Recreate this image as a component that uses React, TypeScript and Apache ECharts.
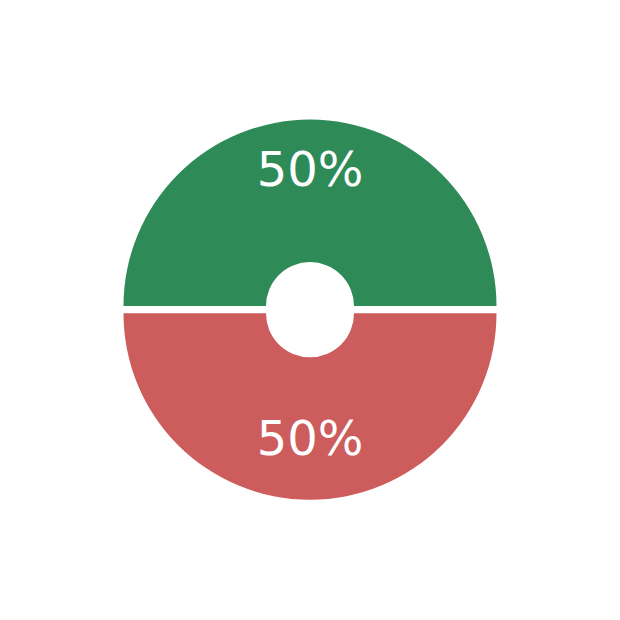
import React, { useEffect, useRef } from "react";
import * as echarts from "echarts";

const categories = ["Green", "Red"];
const values = [50, 50];
const colors = ["#2E8B57", "#CD5C5C"];

export default function App() {
  const ref = useRef<HTMLDivElement>(null);
  useEffect(() => {
    if (!ref.current) return;
    const chart = echarts.init(ref.current, null, { renderer: "svg" });
    const data = categories.map((name, i) => ({ name, value: values[i] }));
    const center = [310, 309.7];
    chart.setOption({
      animation: false,
      backgroundColor: "#ffffff",
      series: [
        {
          type: "pie",
          center,
          radius: [44, 186.5],
          startAngle: 180,
          clockwise: true,
          selectedMode: "multiple",
          selectedOffset: 3.6,
          data: data.map((d, i) => ({
            ...d,
            selected: true,
            itemStyle: { color: colors[i] },
          })),
          itemStyle: { borderWidth: 0 },
          emphasis: { disabled: true },
          label: { show: false },
          labelLine: { show: false },
        },
        {
          type: "pie",
          center,
          radius: [0, 263],
          startAngle: 180,
          clockwise: true,
          silent: true,
          data: data.map((d) => ({ ...d, itemStyle: { color: "transparent" } })),
          label: {
            show: true,
            position: "inside",
            formatter: (p: any) => `${Math.round(p.percent)}%`,
            color: "#ffffff",
            fontSize: 48,
            fontFamily: "DejaVu Sans",
            offset: [0, -6.5],
          },
          labelLine: { show: false },
        },
      ],
    });
    return () => chart.dispose();
  }, []);
  return (
    <div
      ref={ref}
      style={{ position: "absolute", left: 0, top: 0, width: 620, height: 620 }}
    />
  );
}
